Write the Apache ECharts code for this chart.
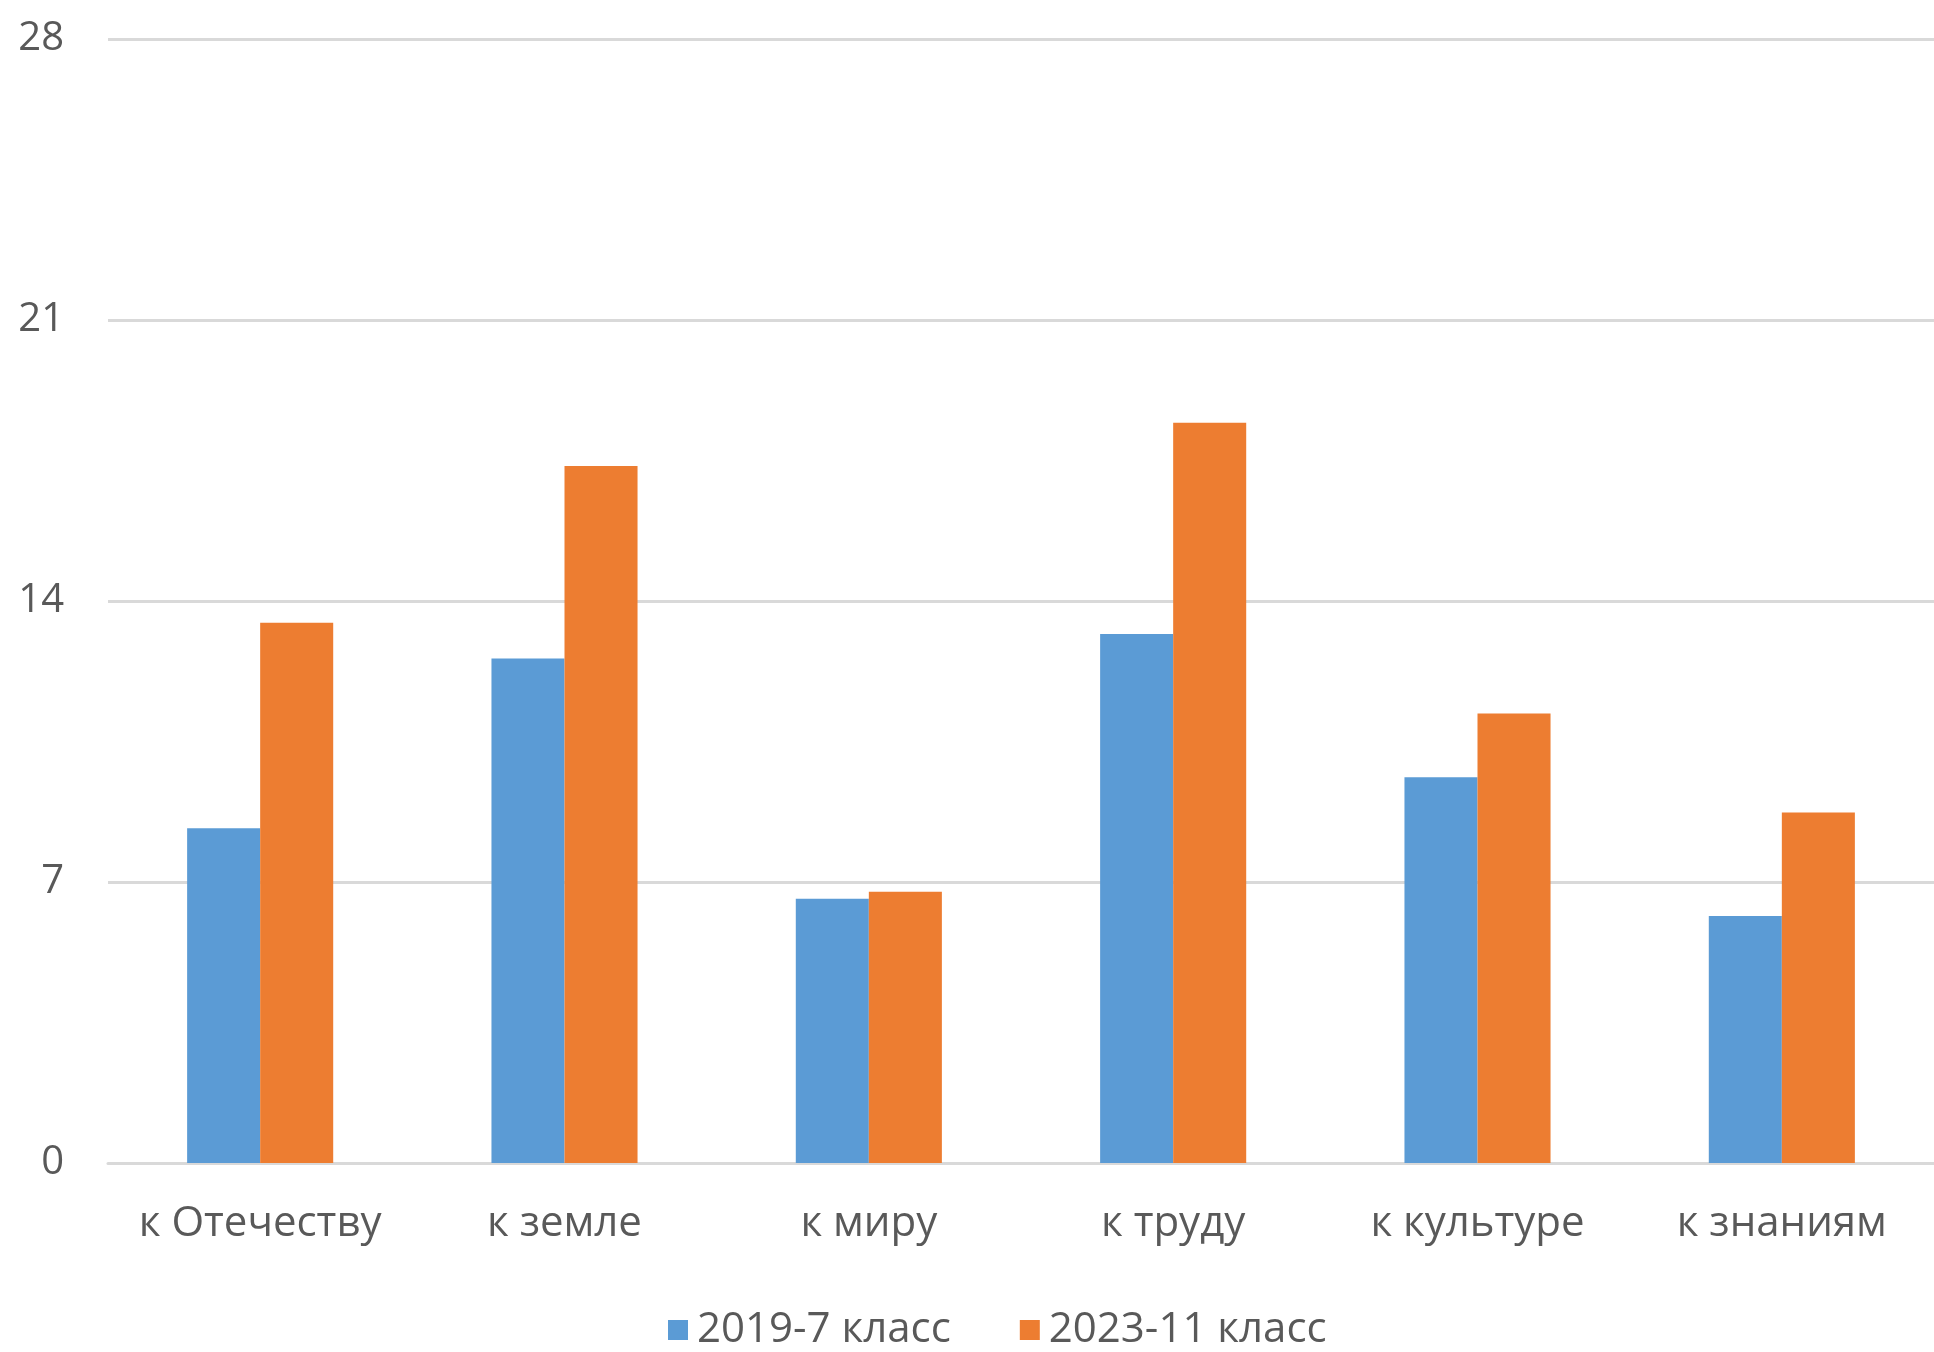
<!DOCTYPE html>
<html><head><meta charset="utf-8">
<script src="https://cdn.jsdelivr.net/npm/echarts@6/dist/echarts.min.js"></script>
<style>html,body{margin:0;padding:0;background:#fff}#c{width:1934px;height:1352px}</style>
</head><body><div id="c"></div>
<script>
const categories = ['к Отечеству', 'к земле', 'к миру', 'к труду', 'к культуре', 'к знаниям'];
const seriesNames = ['2019-7 класс', '2023-11 класс'];
const values2019 = [8.34, 12.57, 6.58, 13.18, 9.61, 6.15];
const values2023 = [13.46, 17.36, 6.76, 18.44, 11.2, 8.73];
const yTicks = [0, 7, 14, 21, 28];

const chart = echarts.init(document.getElementById('c'), null, {renderer: 'canvas'});
const font = '"Open Sans", "Noto Sans", sans-serif';
chart.setOption({
  animation: false,
  backgroundColor: '#ffffff',
  grid: {left: 108, right: 0, top: 39, bottom: 189, containLabel: false},
  legend: {
    data: seriesNames,
    left: 663, top: 1304,
    itemWidth: 20, itemHeight: 20, itemGap: 69,
    icon: 'rect',
    textStyle: {fontFamily: font, fontSize: 42, color: '#595959', padding: [0, 0, 0, 4]}
  },
  xAxis: {
    type: 'category',
    data: categories,
    axisLine: {lineStyle: {color: '#D9D9D9', width: 3}},
    axisTick: {show: false},
    axisLabel: {fontFamily: font, fontSize: 42, color: '#595959', margin: 40, interval: 0, hideOverlap: false}
  },
  yAxis: {
    type: 'value',
    min: yTicks[0], max: yTicks[yTicks.length - 1], interval: 7,
    axisLine: {show: false},
    axisTick: {show: false},
    splitLine: {lineStyle: {color: '#D9D9D9', width: 3}},
    axisLabel: {fontFamily: font, fontSize: 40, color: '#595959', margin: 44}
  },
  series: [
    {name: seriesNames[0], type: 'bar', data: values2019, barGap: '0%', barCategoryGap: '52%', itemStyle: {color: '#5B9BD5'}},
    {name: seriesNames[1], type: 'bar', data: values2023, barGap: '0%', barCategoryGap: '52%', itemStyle: {color: '#ED7D31'}}
  ]
});
</script></body></html>
